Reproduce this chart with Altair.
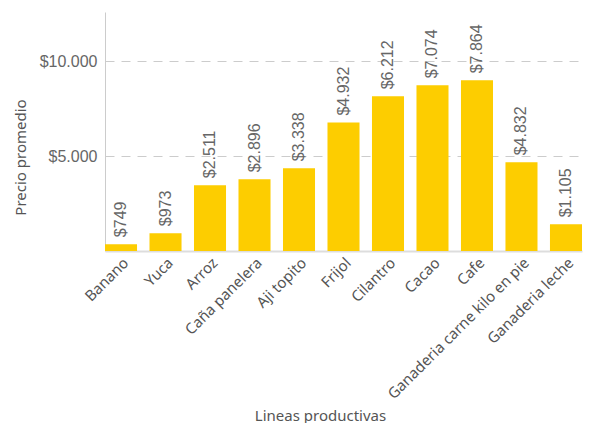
import altair as alt
import pandas as pd

categories = ["Banano", "Yuca", "Arroz", "Caña panelera", "Aji topito", "Frijol",
              "Cilantro", "Cacao", "Cafe", "Ganaderia carne kilo en pie", "Ganaderia leche"]
bar_values = [360, 935, 3460, 3775, 4350, 6760, 8140, 8720, 8985, 4670, 1405]
label_values = [749, 973, 2511, 2896, 3338, 4932, 6212, 7074, 7864, 4832, 1105]

df = pd.DataFrame({
    "linea": categories,
    "precio": bar_values,
    "etiqueta": ["$" + f"{v:,}".replace(",", ".") for v in label_values],
})

x = alt.X("linea:N", sort=categories, title="Lineas productivas",
          scale=alt.Scale(paddingInner=0.28, paddingOuter=0),
          axis=alt.Axis(labelAngle=-45, labelFont="Noto Sans", labelFontSize=15,
                        labelColor="#555555", ticks=False, domainColor="#dddddd",
                        domainWidth=2, labelPadding=4, labelLimit=400,
                        titleFont="Noto Sans", titleFontSize=15, titleFontWeight="normal",
                        titleColor="#555555", titleX=215, titleY=169,
                        titleBaseline="alphabetic"))
y = alt.Y("precio:Q", title="Precio promedio",
          scale=alt.Scale(domain=[0, 12580], nice=False),
          axis=alt.Axis(values=[5000, 10000],
                        labelExpr="'$' + replace(format(datum.value, ','), ',', '.')",
                        labelFont="Liberation Sans", labelFontSize=16, labelColor="#666666",
                        labelPadding=8, ticks=False, domainColor="#cccccc",
                        gridColor="#cccccc", gridDash=[9, 7],
                        titleFont="Noto Sans", titleFontSize=15, titleFontWeight="normal",
                        titleColor="#555555", titleY=145, titlePadding=11))

bars = alt.Chart(df).mark_bar(color="#FDCD00").encode(x=x, y=y)
text = alt.Chart(df).mark_text(angle=270, align="left", baseline="middle", dx=7,
                               font="Liberation Sans", fontSize=16, color="#666666").encode(
    x=alt.X("linea:N", sort=categories),
    y=alt.Y("precio:Q"),
    text="etiqueta:N")

chart = (bars + text).properties(
    width=477, height=239,
    autosize=alt.AutoSizeParams(type="none"),
    padding={"left": 105, "top": 12, "right": 10, "bottom": 172},
).configure_view(stroke=None).configure_axis(grid=False).configure_axisY(grid=True)

chart.save("out.html", embed_options={"renderer": "svg", "actions": False})
